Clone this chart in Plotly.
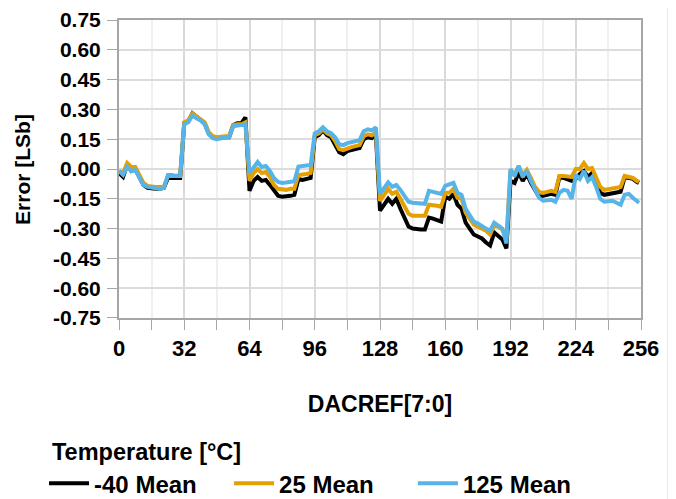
import plotly.graph_objects as go

# DACREF codes (sampled every 2 codes, plus the last code)
dacref = list(range(0, 256, 2)) + [255]

# error in LSb, one list per temperature
err_m40 = [
    -0.02, -0.04, 0.02, -0.01, 0.0, -0.04, -0.08, -0.095, -0.10, -0.10, -0.10, -0.095, -0.045, -0.045, -0.05, -0.045,
    0.23, 0.24, 0.28, 0.265, 0.25, 0.23, 0.18, 0.16, 0.155, 0.16, 0.16, 0.16, 0.22, 0.23, 0.23, 0.26,
    -0.11, -0.06, -0.04, -0.06, -0.055, -0.08, -0.11, -0.135, -0.14, -0.14, -0.135, -0.13, -0.05, -0.055, -0.05, -0.045,
    0.16, 0.17, 0.195, 0.17, 0.16, 0.12, 0.085, 0.075, 0.09, 0.095, 0.10, 0.105, 0.15, 0.16, 0.155, 0.17,
    -0.21, -0.18, -0.15, -0.175, -0.15, -0.20, -0.25, -0.29, -0.30, -0.305, -0.305, -0.305, -0.245, -0.25, -0.26, -0.265,
    -0.14, -0.15, -0.125, -0.18, -0.20, -0.27, -0.30, -0.33, -0.34, -0.35, -0.37, -0.385, -0.32, -0.34, -0.355, -0.40,
    -0.06, -0.07, -0.018, -0.06, -0.025, -0.07, -0.11, -0.14, -0.135, -0.13, -0.125, -0.13, -0.04, -0.045, -0.05, -0.06,
    -0.05, -0.025, -0.01, -0.04, -0.02, -0.07, -0.12, -0.13, -0.125, -0.12, -0.12, -0.115, -0.04, -0.045, -0.05, -0.065,
    -0.07,
]
err_25 = [
    -0.01, -0.02, 0.03, 0.01, 0.01, -0.03, -0.07, -0.085, -0.09, -0.09, -0.09, -0.09, -0.035, -0.035, -0.04, -0.035,
    0.235, 0.245, 0.28, 0.265, 0.255, 0.235, 0.185, 0.165, 0.16, 0.165, 0.165, 0.165, 0.22, 0.225, 0.225, 0.235,
    -0.06, -0.02, 0.0, -0.02, -0.015, -0.04, -0.08, -0.10, -0.105, -0.105, -0.10, -0.10, -0.03, -0.03, -0.025, -0.02,
    0.17, 0.18, 0.20, 0.18, 0.17, 0.14, 0.10, 0.095, 0.105, 0.11, 0.115, 0.12, 0.165, 0.175, 0.17, 0.185,
    -0.16, -0.13, -0.10, -0.125, -0.115, -0.15, -0.185, -0.225, -0.235, -0.235, -0.235, -0.235, -0.18, -0.18, -0.185, -0.19,
    -0.12, -0.12, -0.10, -0.145, -0.15, -0.22, -0.25, -0.28, -0.29, -0.30, -0.31, -0.33, -0.28, -0.29, -0.305, -0.35,
    -0.01, -0.03, 0.015, -0.03, -0.005, -0.045, -0.09, -0.115, -0.12, -0.115, -0.11, -0.115, -0.035, -0.035, -0.04, -0.04,
    0.0, 0.0, 0.03, 0.0, 0.005, -0.045, -0.09, -0.105, -0.10, -0.095, -0.09, -0.09, -0.035, -0.04, -0.045, -0.06,
    -0.065,
]
err_125 = [
    -0.01, -0.03, 0.01, -0.01, -0.005, -0.04, -0.08, -0.09, -0.095, -0.095, -0.10, -0.095, -0.03, -0.03, -0.035, -0.03,
    0.225, 0.235, 0.27, 0.255, 0.245, 0.225, 0.175, 0.155, 0.15, 0.155, 0.16, 0.16, 0.215, 0.22, 0.22, 0.225,
    -0.02, 0.01, 0.035, 0.01, 0.015, -0.01, -0.045, -0.065, -0.07, -0.068, -0.065, -0.062, 0.012, 0.015, 0.015, 0.02,
    0.18, 0.19, 0.21, 0.19, 0.18, 0.16, 0.125, 0.12, 0.13, 0.135, 0.14, 0.145, 0.19, 0.20, 0.195, 0.21,
    -0.125, -0.095, -0.068, -0.09, -0.08, -0.105, -0.135, -0.165, -0.17, -0.172, -0.17, -0.175, -0.11, -0.115, -0.12, -0.125,
    -0.085, -0.08, -0.07, -0.12, -0.13, -0.20, -0.23, -0.265, -0.275, -0.29, -0.30, -0.31, -0.27, -0.285, -0.30, -0.375,
    0.0, -0.035, 0.015, -0.04, -0.01, -0.06, -0.10, -0.145, -0.16, -0.16, -0.155, -0.165, -0.12, -0.105, -0.11, -0.15,
    -0.03, -0.05, -0.01, -0.06, -0.04, -0.09, -0.15, -0.165, -0.165, -0.16, -0.17, -0.18, -0.13, -0.125, -0.145, -0.16,
    -0.17,
]

series = [
    ("-40 Mean", err_m40, "#000000"),
    ("25 Mean", err_25, "#E69F00"),
    ("125 Mean", err_125, "#56B4E9"),
]

y_ticks = [0.75, 0.60, 0.45, 0.30, 0.15, 0.00, -0.15, -0.30, -0.45, -0.60, -0.75]
y_labels = ["0.75", "0.60", "0.45", "0.30", "0.15", "0.00", "-0.15", "-0.30", "-0.45", "-0.60", "-0.75"]
x_ticks = [0, 32, 64, 96, 128, 160, 192, 224, 256]

FONT = "Liberation Sans, Arial"

# one small legend per entry so the row keeps the original spacing
legend_ids = ["legend", "legend2", "legend3"]
legend_x = [0.0533, 0.327, 0.599]

fig = go.Figure()
for (name, vals, col), lid in zip(series, legend_ids):
    fig.add_trace(go.Scatter(x=dacref, y=vals, mode="lines", name=name, legend=lid,
                             line=dict(color=col, width=4)))

legends = {}
for lid, lx in zip(legend_ids, legend_x):
    legends[lid] = dict(
        orientation="h", xref="container", yref="container",
        x=lx, y=0.047, xanchor="left", yanchor="middle",
        itemwidth=40, font=dict(size=24), bgcolor="rgba(0,0,0,0)",
    )

fig.update_layout(
    width=676, height=499,
    margin=dict(l=111, r=42.5, t=12, b=189),
    paper_bgcolor="white", plot_bgcolor="white",
    font=dict(family=FONT, size=22, color="black", weight="bold"),
    showlegend=True,
    **legends,
)

# legend heading and y title as free text
fig.add_annotation(text="Temperature [°C]", xref="paper", yref="paper",
                   x=-0.132, y=-0.45, xanchor="left", yanchor="middle",
                   showarrow=False, font=dict(size=23.5))
fig.add_annotation(text="Error [LSb]", xref="paper", yref="paper",
                   x=-0.186, y=0.5, xanchor="center", yanchor="middle", textangle=-90,
                   showarrow=False, font=dict(size=21))

fig.update_xaxes(
    range=[0, 256], tickvals=x_ticks, automargin=False,
    showline=True, linecolor="#a6a6a6", linewidth=2, mirror=True,
    ticks="outside", ticklen=10, tickcolor="#a6a6a6", tickwidth=1,
    showgrid=True, gridcolor="#d9d9d9", gridwidth=2,
    minor=dict(dtick=16, tick0=0, ticks="outside", ticklen=10, tickcolor="#a6a6a6",
               showgrid=True, gridcolor="#efefef", gridwidth=2),
    zeroline=False, tickfont=dict(size=22), ticklabeloverflow="allow",
    title=dict(text="DACREF[7:0]", standoff=35, font=dict(size=23)),
)
fig.update_yaxes(
    range=[-0.7501, 0.7501], tickvals=y_ticks, ticktext=y_labels, automargin=False,
    showline=True, linecolor="#a6a6a6", linewidth=2, mirror=True,
    ticks="outside", ticklen=10, tickcolor="#a6a6a6", tickwidth=1,
    showgrid=True, gridcolor="#dcdcdc", gridwidth=2,
    zeroline=False, tickfont=dict(size=21), ticklabeloverflow="allow",
    ticklabelstandoff=2,
)

# thin page border on the right of the original figure
fig.add_shape(type="line", xref="paper", yref="paper", x0=1.0526, x1=1.0526, y0=-0.7, y1=1.1,
              line=dict(color="#d9d9d9", width=2))

fig.write_html("out.html")
